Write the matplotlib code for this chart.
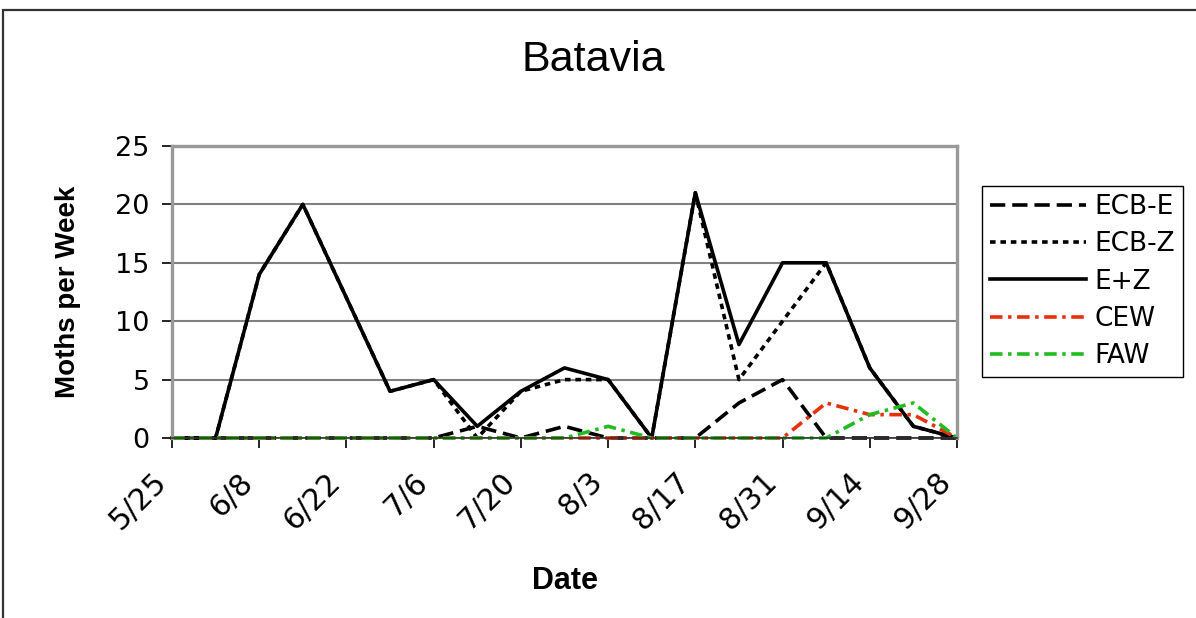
import matplotlib
matplotlib.use("Agg")
import matplotlib.pyplot as plt
from matplotlib.patches import Rectangle

plt.rcParams['font.family'] = ['DejaVu Sans']
plt.rcParams['lines.scale_dashes'] = False

dates = ['5/25', '6/1', '6/8', '6/15', '6/22', '6/29', '7/6', '7/13', '7/20', '7/27',
         '8/3', '8/10', '8/17', '8/24', '8/31', '9/7', '9/14', '9/21', '9/28']
ecb_e = [0, 0, 0, 0, 0, 0, 0, 1, 0, 1, 0, 0, 0, 3, 5, 0, 0, 0, 0]
ecb_z = [0, 0, 14, 20, 12, 4, 5, 0, 4, 5, 5, 0, 21, 5, 10, 15, 6, 1, 0]
e_z = [0, 0, 14, 20, 12, 4, 5, 1, 4, 6, 5, 0, 21, 8, 15, 15, 6, 1, 0]
cew = [0, 0, 0, 0, 0, 0, 0, 0, 0, 0, 0, 0, 0, 0, 0, 3, 2, 2, 0]
faw = [0, 0, 0, 0, 0, 0, 0, 0, 0, 0, 1, 0, 0, 0, 0, 0, 2, 3, 0]

W, H = 1196, 618
fig = plt.figure(figsize=(W / 100, H / 100), dpi=100)
ax = fig.add_axes([172 / W, 1 - 438 / H, (957 - 172) / W, (438 - 146) / H])

x = list(range(len(dates)))
lw = 2.6
ax.plot(x, ecb_e, color='black', lw=lw, dashes=(11, 5), label='ECB-E', clip_on=False)
ax.plot(x, ecb_z, color='black', lw=lw, dashes=(4, 3.5), label='ECB-Z', clip_on=False)
ax.plot(x, e_z, color='black', lw=lw, label='E+Z', clip_on=False)
ax.plot(x, cew, color='#e8300c', lw=lw, dashes=(9, 4, 2.5, 4), label='CEW', clip_on=False)
ax.plot(x, faw, color='#22bb22', lw=lw, dashes=(9, 4, 2.5, 4), label='FAW', clip_on=False)

ax.set_xlim(0, len(dates) - 1)
ax.set_ylim(0, 25)
ax.set_yticks([0, 5, 10, 15, 20, 25])
ax.set_xticks(x[::2])
ax.set_xticklabels(dates[::2], rotation=45, ha='right', va='top')
ax.tick_params(axis='both', length=7, width=1.2, color='black', direction='out')
ax.tick_params(axis='x', labelsize=21.5, pad=14)
ax.tick_params(axis='y', labelsize=19.5, pad=9)
ax.grid(axis='y', color='#808080', lw=1.5)
ax.set_axisbelow(True)
for s in ax.spines.values():
    s.set_color('#999999')
    s.set_linewidth(2.4)
ax.spines['bottom'].set_color('#333333')
ax.spines['bottom'].set_linewidth(1.2)

ax.set_ylabel('Moths per Week', fontsize=20, fontweight='bold', labelpad=25,
              family='Liberation Sans')
ax.set_xlabel('Date', fontsize=22, fontweight='bold', labelpad=22, family='Liberation Sans')
fig.text(593 / W, 1 - 71 / H, 'Batavia', fontsize=31, ha='center', va='baseline',
         family='Liberation Sans')

leg = fig.legend(loc='upper left', bbox_to_anchor=(982 / W, 1 - 186 / H), fontsize=19,
                 handlelength=3.65, handletextpad=0.3, labelspacing=0.43, borderpad=0.3,
                 fancybox=False, framealpha=1, edgecolor='black', borderaxespad=0)
leg.get_frame().set_linewidth(1.0)

fig.patches.append(Rectangle((3 / W, -0.1), 1.2, 1.1 - 10 / H, transform=fig.transFigure,
                             fill=False, edgecolor='#333333', lw=1.6, clip_on=False))

fig.savefig('out.png', dpi=100)
